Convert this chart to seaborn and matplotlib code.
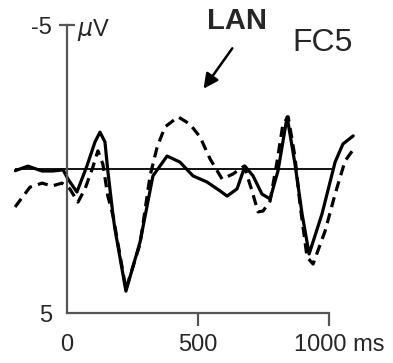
import matplotlib
matplotlib.use("Agg")
import matplotlib.pyplot as plt
from matplotlib.transforms import ScaledTranslation
import seaborn as sns

# ERP at FC5 (ms, microvolts; negative is up)
solid_t = [-198, -149, -95, -53, -15, 4, 38, 76, 107, 126, 145, 156, 176, 183,
           225, 279, 328, 382, 431, 481, 534, 584, 611, 649, 679, 710, 744,
           775, 805, 840, 870, 897, 924, 973, 1023, 1053, 1092]
solid_v = [0.06, -0.10, 0.07, 0.07, 0.03, 0.35, 0.80, -0.10, -0.94, -1.28,
           -0.94, 0.07, 1.63, 2.08, 4.24, 2.53, 0.24, -0.45, -0.24, 0.24, 0.45,
           0.76, 0.94, 0.69, -0.10, 0.24, 0.87, 1.04, 0.07, -1.81, -0.17, 1.56,
           2.95, 1.56, -0.24, -0.87, -1.15]

dashed_t = [-198, -141, -95, -57, -19, 11, 42, 69, 99, 118, 137, 156, 176,
            225, 279, 317, 344, 374, 424, 469, 508, 546, 592, 634, 676, 706,
            729, 748, 775, 802, 824, 844, 870, 889, 916, 939, 985, 1023, 1061,
            1099]
dashed_v = [1.32, 0.63, 0.49, 0.59, 0.49, 0.69, 1.15, 0.69, -0.07, -0.63,
            -0.17, 0.94, 1.63, 4.17, 2.60, 0.24, -0.76, -1.46, -1.81, -1.56,
            -1.11, -0.35, 0.35, 0.17, -0.10, 0.76, 1.49, 1.46, 1.11, -0.28,
            -1.56, -1.81, -0.42, 1.22, 3.06, 3.30, 2.15, 0.87, -0.28, -0.76]

x_ticks = [0, 500, 1000]
x_labels = ["0", "500", "1000 ms"]
y_ticks = [-5, 5]
y_labels = ["-5", "5"]
baseline_end = 1015

sns.set_style("white")
plt.rcParams["font.family"] = ["Liberation Sans", "DejaVu Sans"]

fig = plt.figure(figsize=(3.93, 3.63), dpi=100)
ax = fig.add_axes([14 / 393, 1 - 313 / 363, 346 / 393, 288 / 363])

ax.hlines(0, solid_t[0], baseline_end, color="black", lw=1.3)
sns.lineplot(x=solid_t, y=solid_v, color="black", lw=2.3, ax=ax,
             solid_joinstyle="round")
sns.lineplot(x=dashed_t, y=dashed_v, color="black", lw=2.3, ax=ax,
             linestyle=(0, (3.2, 2.0)))

ax.set_xlim(-202, 1118)
ax.set_ylim(5, -5)

axis_col = "#555555"
for s in ["top", "right"]:
    ax.spines[s].set_visible(False)
ax.spines["left"].set_position(("data", 0))
ax.spines["left"].set_bounds(-5, 5)
ax.spines["bottom"].set_bounds(0, 1000)
for s in ["left", "bottom"]:
    ax.spines[s].set_color(axis_col)
    ax.spines[s].set_linewidth(1.6)

ax.set_xticks(x_ticks)
ax.set_xticklabels(x_labels)
ax.set_yticks(y_ticks)
ax.set_yticklabels(y_labels)
ax.tick_params(axis="x", bottom=True, direction="out", length=9.4, width=1.6,
               color=axis_col, pad=6, labelsize=17)
ax.tick_params(axis="y", left=True, direction="inout", length=11.5, width=1.6,
               color=axis_col, pad=5, labelsize=17)
ax.xaxis.get_major_ticks()[0].tick1line.set_visible(False)
ax.yaxis.get_major_ticks()[1].tick1line.set_visible(False)

lab = ax.get_xticklabels()[2]
lab.set_horizontalalignment("left")
lab.set_transform(lab.get_transform() +
                  ScaledTranslation(-0.35, 0, fig.dpi_scale_trans))

ax.set_xlabel("")
ax.set_ylabel("")

ax.text(103, -4.83, r"$\mu$V", fontsize=17, ha="center", va="center",
        clip_on=False)
ax.text(649, -5.14, "LAN", fontsize=21, fontweight="bold", ha="center",
        va="center", clip_on=False)
ax.text(977, -4.375, "FC5", fontsize=23, ha="center", va="center",
        clip_on=False)
ax.annotate("", xy=(515, -2.71), xytext=(637, -4.27),
            arrowprops=dict(arrowstyle="-|>", color="black", lw=1.8,
                            mutation_scale=22),
            annotation_clip=False)

fig.savefig("out.png", dpi=100)
